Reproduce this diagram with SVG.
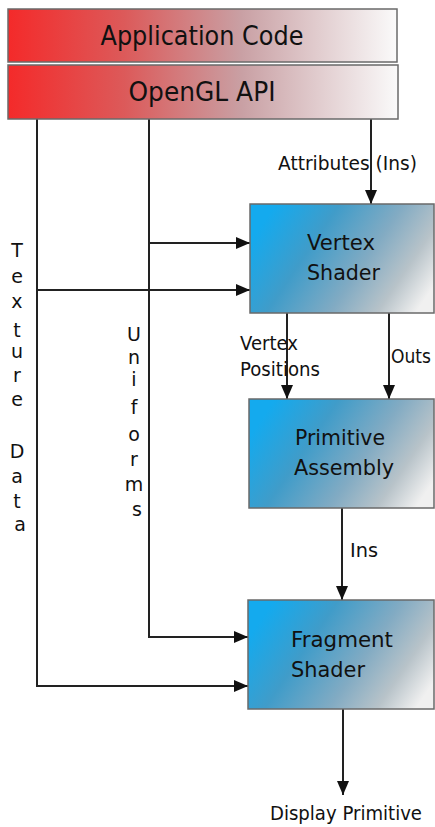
<svg xmlns="http://www.w3.org/2000/svg" width="435" height="827" viewBox="0 0 435 827">
  <defs>
    <linearGradient id="gradRed" x1="0" y1="0" x2="1" y2="0">
      <stop offset="0" stop-color="#f42a2a"/>
      <stop offset="0.3" stop-color="#dc5a5a"/>
      <stop offset="0.6" stop-color="#c9a0a4"/>
      <stop offset="1" stop-color="#fafafa"/>
    </linearGradient>
    <linearGradient id="gradBlue" x1="0" y1="0.35" x2="1" y2="0.75">
      <stop offset="0" stop-color="#14aaee"/>
      <stop offset="0.3" stop-color="#409cc9"/>
      <stop offset="0.6" stop-color="#82abc3"/>
      <stop offset="0.82" stop-color="#b8c3c9"/>
      <stop offset="1" stop-color="#f0f0f0"/>
    </linearGradient>
    <marker id="arrow" viewBox="0 0 14 12" refX="14" refY="6" markerWidth="14" markerHeight="12" markerUnits="userSpaceOnUse" orient="auto">
      <path d="M0,0 L14,6 L0,12 Z" fill="#111"/>
    </marker>
  </defs>
  <style>
    .box { stroke: #6a6a6a; stroke-width: 1.5; }
    .title { font-family: "DejaVu Sans", Verdana, sans-serif; font-size: 26px; fill: #111; text-anchor: middle; }
    .node { font-family: "DejaVu Sans", Verdana, sans-serif; font-size: 22px; fill: #111; }
    .label { font-family: "DejaVu Sans", Verdana, sans-serif; font-size: 20px; fill: #111; }
    .vlabel { font-family: "DejaVu Sans", Verdana, sans-serif; font-size: 19px; fill: #111; text-anchor: middle; }
    .wire { stroke: #222; stroke-width: 2; fill: none; }
    .arr { marker-end: url(#arrow); }
  </style>

  <rect width="435" height="827" fill="#ffffff"/>

  <!-- connectors -->
  <g id="connectors">
    <!-- texture data trunk -->
    <path class="wire arr" d="M37,119 V686 H248"/>
    <path class="wire arr" d="M37,290 H250"/>
    <!-- uniforms trunk -->
    <path class="wire arr" d="M149,119 V637 H248"/>
    <path class="wire arr" d="M149,243 H250"/>
    <!-- attributes -->
    <path class="wire arr" d="M371,119 V204"/>
    <!-- vertex shader outputs -->
    <path class="wire arr" d="M287,313 V399"/>
    <path class="wire arr" d="M389,313 V399"/>
    <!-- primitive assembly to fragment shader -->
    <path class="wire arr" d="M342,508 V600"/>
    <!-- fragment output -->
    <path class="wire arr" d="M343,709 V795"/>
  </g>

  <g id="application-code">
    <rect class="box" x="8" y="9" width="389" height="53" fill="url(#gradRed)"/>
    <text class="title" x="202" y="45" textLength="203" lengthAdjust="spacingAndGlyphs">Application Code</text>
  </g>

  <g id="opengl-api">
    <rect class="box" x="8" y="65" width="390" height="54" fill="url(#gradRed)"/>
    <text class="title" x="202" y="101" textLength="147" lengthAdjust="spacingAndGlyphs">OpenGL API</text>
  </g>

  <g id="vertex-shader">
    <rect class="box" x="250" y="204" width="184" height="109" fill="url(#gradBlue)"/>
    <text class="node" x="307" y="250" textLength="68" lengthAdjust="spacingAndGlyphs">Vertex</text>
    <text class="node" x="307" y="280" textLength="73" lengthAdjust="spacingAndGlyphs">Shader</text>
  </g>

  <g id="primitive-assembly">
    <rect class="box" x="249" y="399" width="185" height="109" fill="url(#gradBlue)"/>
    <text class="node" x="295" y="445" textLength="90" lengthAdjust="spacingAndGlyphs">Primitive</text>
    <text class="node" x="294" y="475" textLength="100" lengthAdjust="spacingAndGlyphs">Assembly</text>
  </g>

  <g id="fragment-shader">
    <rect class="box" x="248" y="600" width="186" height="109" fill="url(#gradBlue)"/>
    <text class="node" x="291" y="647" textLength="102" lengthAdjust="spacingAndGlyphs">Fragment</text>
    <text class="node" x="291" y="677" textLength="74" lengthAdjust="spacingAndGlyphs">Shader</text>
  </g>

  <!-- connector labels -->
  <g id="labels">
    <text class="label" x="278" y="170" textLength="139" lengthAdjust="spacingAndGlyphs">Attributes (Ins)</text>
    <text class="label" x="240" y="350" textLength="58" lengthAdjust="spacingAndGlyphs">Vertex</text>
    <text class="label" x="240" y="376" textLength="80" lengthAdjust="spacingAndGlyphs">Positions</text>
    <text class="label" x="391" y="363" textLength="40" lengthAdjust="spacingAndGlyphs">Outs</text>
    <text class="label" x="350" y="557" textLength="28" lengthAdjust="spacingAndGlyphs">Ins</text>
    <text class="label" x="270" y="820" textLength="152" lengthAdjust="spacingAndGlyphs">Display Primitive</text>
    <text class="vlabel">
      <tspan x="20" y="257">T</tspan>
      <tspan x="20" y="283">e</tspan>
      <tspan x="20" y="308">x</tspan>
      <tspan x="20" y="337">t</tspan>
      <tspan x="20" y="358">u</tspan>
      <tspan x="20" y="382">r</tspan>
      <tspan x="20" y="406">e</tspan>
      <tspan x="20" y="458">D</tspan>
      <tspan x="20" y="483">a</tspan>
      <tspan x="20" y="508">t</tspan>
      <tspan x="20" y="531">a</tspan>
    </text>
    <text class="vlabel">
      <tspan x="137" y="341">U</tspan>
      <tspan x="137" y="364">n</tspan>
      <tspan x="137" y="386">i</tspan>
      <tspan x="137" y="414">f</tspan>
      <tspan x="137" y="441">o</tspan>
      <tspan x="137" y="466">r</tspan>
      <tspan x="137" y="491">m</tspan>
      <tspan x="137" y="516">s</tspan>
    </text>
  </g>
</svg>
